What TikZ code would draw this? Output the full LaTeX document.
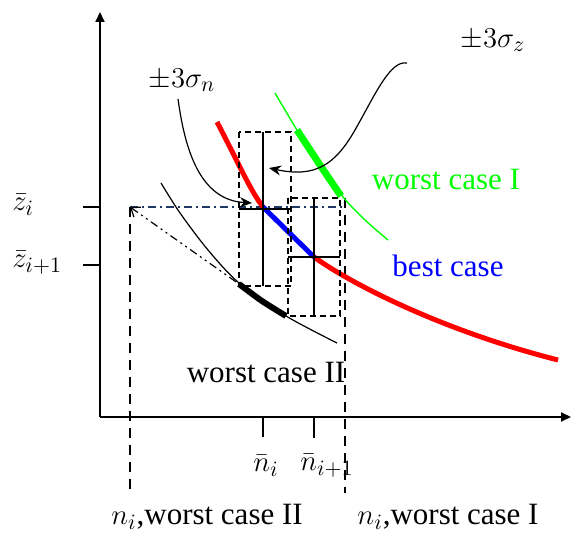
\documentclass[tikz,border=0pt]{standalone}
\usepackage{fontspec}
\setmainfont{Liberation Serif}
\usetikzlibrary{arrows.meta, calc, positioning}
\definecolor{navyline}{RGB}{31,56,100}
\definecolor{bestblue}{RGB}{0,0,255}
\definecolor{worstgreen}{RGB}{0,255,0}

\begin{document}
\begin{tikzpicture}[x=0.5pt, y=-0.5pt,
    lbl/.style={font=\fontsize{15.5}{18}\selectfont, inner sep=1pt},
    errbox/.style={draw, line width=1pt, dash pattern=on 3pt off 2pt},
    errbar/.style={line width=1pt},
    guide/.style={line width=0.7pt, dash pattern=on 5pt off 3.5pt},
    callout/.style={line width=0.6pt, -{Stealth[length=6pt,width=5pt]}},
    axis/.style={line width=1pt, -{Triangle[length=5pt,width=4.5pt]}}]

\useasboundingbox (0,0) rectangle (572,533);

% Axes and ticks
\coordinate (O) at (100,417);
\draw[axis] (O) -- (100,12);
\draw[axis] (O) -- (571,417);
\draw[errbar] (83,207) -- (100,207);
\draw[errbar] (83,265) -- (100,265);
\draw[errbar] (263,417) -- (263,437);
\draw[errbar] (314,417) -- (314,438);

% Axis labels
\node[lbl, anchor=west] (zi) at (10,205) {$\bar{z}_i$};
\node[lbl, anchor=west] (zii) at (10,263) {$\bar{z}_{i+1}$};
\node[lbl] (nbari) at (266,466) {$\bar{n}_i$};
\node[lbl] (nbarii) at (327,466) {$\bar{n}_{i+1}$};
\node[lbl] (nwcII) at (207,517) {$n_i$,worst case II};
\node[lbl] (nwcI) at (448,517) {$n_i$,worst case I};

% Points on the curves
\coordinate (pi) at (263,207);
\coordinate (pii) at (314,257);
\coordinate (wII) at (130,207);
\coordinate (wIIend) at (239,284);
\coordinate (wI) at (345,207);

% Guide lines
\draw[guide] (wII) -- (130,490);
\draw[guide] (345,198) -- (345,493);
\draw[navyline, line width=0.6pt, dash pattern=on 4pt off 2pt on 1pt off 2pt] (wII) -- (wI);
\draw[line width=0.6pt, dash pattern=on 4pt off 2pt on 1pt off 2pt on 1pt off 2pt,
      {Straight Barb[length=4pt,width=6pt]}-] (wII) -- (wIIend);

% Curves
\draw[red, line width=2.5pt] (217,122) .. controls (240,166) and (250,190) .. (pi);
\draw[red, line width=2.5pt] (pii) .. controls (350,283) and (440,330) .. (558,360);
\draw[bestblue, line width=2.5pt] (pi) -- (pii);
\draw[worstgreen, line width=0.7pt] plot[smooth] coordinates
  {(275,93) (297,130) (320,165) (343,197) (365,220) (388,240)};
\draw[worstgreen, line width=3.5pt] plot[smooth] coordinates
  {(297,130) (320,165) (341,196)};
\draw[line width=0.6pt] plot[smooth] coordinates
  {(161,183) (180,213) (208,250) (239,283) (286,316) (337,343)};
\draw[line width=3pt] plot[smooth] coordinates {(wIIend) (262,301) (286,316)};

% Error boxes
\draw[errbox] (239,132) rectangle (291,286);
\draw[errbox] (288,198) rectangle (340,316);
\draw[errbar] (263,132) -- (263,286);
\draw[errbar] (239,209) -- (291,209);
\draw[errbar] (314,198) -- (314,316);
\draw[errbar] (288,257) -- (340,257);

% Curve labels
\node[lbl, text=worstgreen] (wcI) at (446,180) {worst case I};
\node[lbl, text=bestblue] (best) at (448,266) {best case};
\node[lbl] (wcII) at (266,373) {worst case II};

% Sigma callouts
\node[lbl] (sign) at (182,80) {$\pm 3\sigma_n$};
\node[lbl] (sigz) at (493,40) {$\pm 3\sigma_z$};
\coordinate (sn0) at (178,99);
\coordinate (sn1) at (252,203);
\coordinate (sz0) at (407,63);
\coordinate (sz1) at (269,168);
\draw[callout] (sn0) .. controls (185,150) and (200,200) .. (sn1);
\draw[callout] (sz0) .. controls (390,60) and (375,95) .. (355,130)
  .. controls (335,165) and (315,178) .. (sz1);

\end{tikzpicture}
\end{document}
